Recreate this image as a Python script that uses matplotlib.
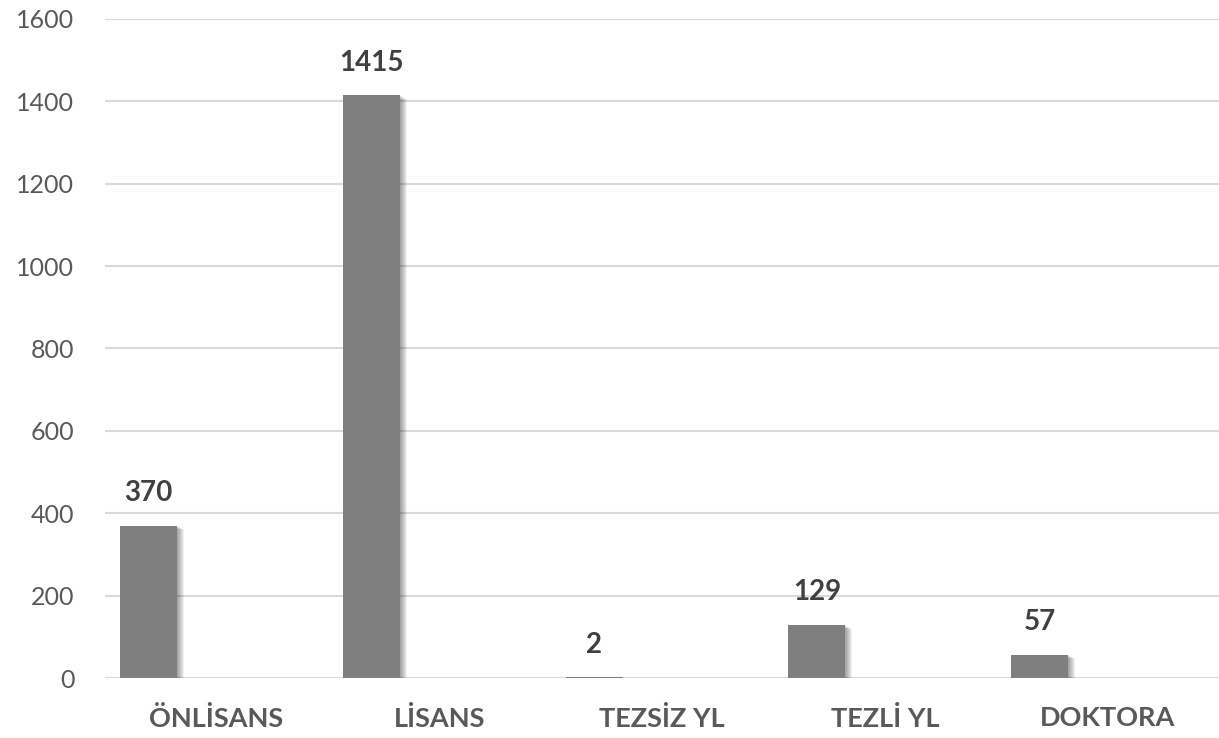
import matplotlib.pyplot as plt
import matplotlib.patheffects as pe

# data
categories = ['ÖNLİSANS', 'LİSANS', 'TEZSİZ YL', 'TEZLİ YL', 'DOKTORA']
counts = [370, 1415, 2, 129, 57]
y_ticks = [0, 200, 400, 600, 800, 1000, 1200, 1400, 1600]

plt.rcParams['font.family'] = ['Lato', 'DejaVu Sans']

fig = plt.figure(figsize=(12.19, 7.38), dpi=100)
ax = fig.add_axes([0.0861, 0.0813, 0.9139, 0.893])

x = range(len(categories))
# bars sit in the left slot of each category (second series slot is empty)
pos = [i - 0.305 for i in x]

shadow = [pe.SimplePatchShadow(offset=(k * 0.7, -k * 0.4), shadow_rgbFace='black', alpha=0.06)
          for k in range(1, 8)]
bars = ax.bar(pos, counts, width=0.256, color='#7f7f7f', zorder=3,
              path_effects=shadow + [pe.Normal()])

for xp, v in zip(pos, counts):
    ax.annotate(str(v), (xp, v), xytext=(0, 14), textcoords='offset points',
                ha='center', va='bottom', fontsize=20, fontweight='bold', color='#404040')

ax.set_xlim(-0.5, len(categories) - 0.5)
ax.set_ylim(0, 1600)
ax.set_yticks(y_ticks)
ax.set_xticks(list(x))
ax.set_xticklabels(categories, fontsize=19.5, fontweight='bold', color='#595959')
ax.tick_params(axis='y', labelsize=18, labelcolor='#595959', length=0, pad=22)
ax.tick_params(axis='x', length=0, pad=20)

ax.grid(axis='y', color='#d9d9d9', linewidth=1.5, zorder=0)
for s in ax.spines.values():
    s.set_visible(False)

fig.savefig('out.png', dpi=100)
